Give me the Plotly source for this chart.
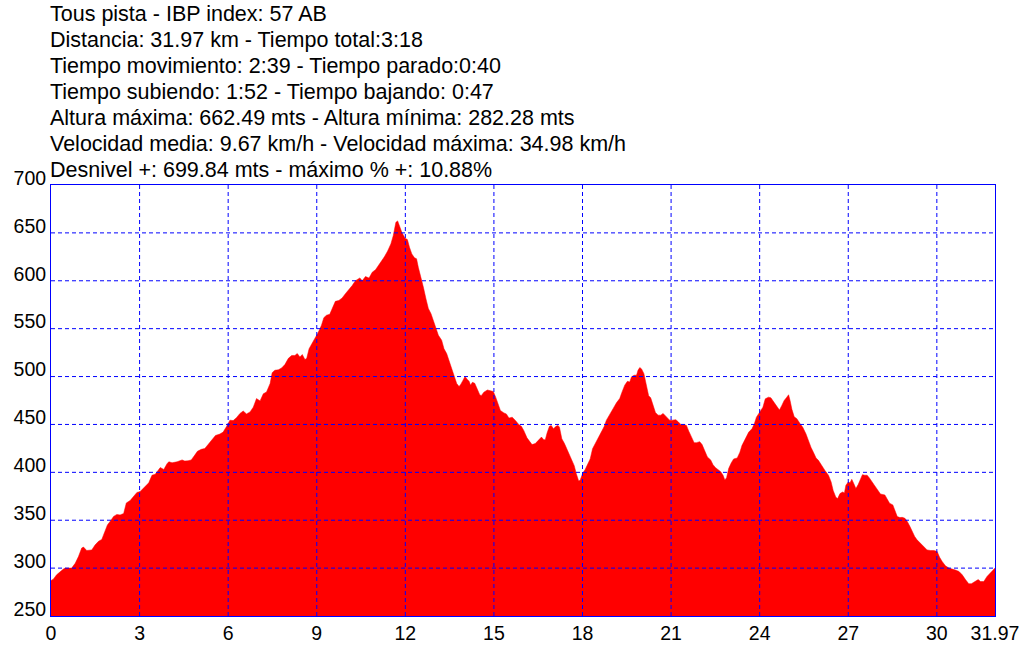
import plotly.graph_objects as go

# ---- data ----
km = [0, 0.08, 0.19, 0.31, 0.42, 0.48, 0.70, 0.82, 0.93, 1.04, 1.10, 1.21, 1.38, 1.49, 1.61, 1.72, 1.83, 1.91,
      2.00, 2.12, 2.23, 2.34, 2.46, 2.55, 2.68, 2.80, 2.91, 3.02, 3.19, 3.31, 3.42, 3.53, 3.70, 3.82, 3.93,
      3.99, 4.10, 4.27, 4.44,
      4.53, 4.64, 4.75, 4.87, 4.96, 5.09, 5.21, 5.32, 5.43, 5.57, 5.72, 5.83, 5.94, 6.06, 6.17, 6.28, 6.40,
      6.51, 6.62, 6.74, 6.85, 6.96, 7.08, 7.19, 7.30, 7.42, 7.49, 7.58, 7.70, 7.81, 7.92, 8.04, 8.15, 8.26,
      8.34, 8.43, 8.51, 8.60, 8.66, 8.74, 8.83, 8.94, 9.03,
      9.10, 9.16, 9.24, 9.33, 9.44, 9.52, 9.63, 9.75, 9.86, 9.97, 10.09, 10.20, 10.31, 10.46, 10.54, 10.65,
      10.77, 10.88, 10.99, 11.11, 11.20, 11.29, 11.40, 11.51, 11.59, 11.68, 11.74, 11.80, 11.88, 11.99,
      12.07, 12.14, 12.22, 12.31, 12.38, 12.44, 12.53, 12.61, 12.70, 12.78, 12.87, 12.95, 13.04, 13.12,
      13.23, 13.31, 13.40, 13.52, 13.63, 13.74, 13.82,
      13.88, 13.96, 14.02, 14.10, 14.16, 14.21, 14.27, 14.35, 14.44, 14.52, 14.57, 14.66, 14.78, 14.89,
      14.98, 15.06, 15.13, 15.22, 15.34, 15.42, 15.51, 15.62, 15.73, 15.84, 15.93, 16.01, 16.12, 16.20,
      16.29, 16.40, 16.52, 16.61, 16.69, 16.74, 16.80, 16.88, 16.94, 17.02, 17.10, 17.17, 17.22, 17.30,
      17.39, 17.47, 17.55, 17.64, 17.72, 17.79, 17.87, 17.92, 18.00, 18.09, 18.18, 18.26, 18.34,
      18.43, 18.53, 18.64, 18.73, 18.81, 18.92, 19.04, 19.15, 19.26, 19.34, 19.43, 19.52, 19.60, 19.66,
      19.75, 19.83, 19.88, 19.94, 20.00, 20.08, 20.14, 20.20, 20.24, 20.31, 20.39, 20.47, 20.56, 20.65,
      20.73, 20.84, 20.95, 21.05, 21.16, 21.24, 21.33, 21.44, 21.52, 21.60, 21.69, 21.78, 21.86, 21.97,
      22.05, 22.14, 22.23, 22.34, 22.42, 22.50, 22.59, 22.68, 22.76, 22.82, 22.88, 22.95,
      23.04, 23.12, 23.24, 23.33, 23.40, 23.52, 23.63, 23.74, 23.82, 23.89, 24.00, 24.11, 24.19, 24.30,
      24.38, 24.47, 24.58, 24.67, 24.75, 24.83, 24.92, 24.98, 25.03, 25.09, 25.17, 25.26, 25.37, 25.46,
      25.57, 25.65, 25.74, 25.82, 25.91, 25.99, 26.10, 26.21, 26.33, 26.42, 26.49, 26.58, 26.64, 26.72,
      26.81, 26.87, 26.92, 27.00, 27.06, 27.12, 27.19, 27.26, 27.34, 27.42, 27.48, 27.56, 27.64, 27.71,
      27.81, 27.90, 27.98, 28.09, 28.24, 28.32, 28.40, 28.51, 28.60, 28.66, 28.75, 28.83, 28.92, 29.00,
      29.09, 29.16, 29.25, 29.33, 29.45, 29.56, 29.67, 29.79, 29.90, 30.01, 30.09, 30.18, 30.29, 30.41,
      30.54, 30.63, 30.75, 30.86, 30.97, 31.08, 31.17, 31.25, 31.33, 31.40, 31.48, 31.59, 31.70, 31.82,
      31.91, 31.97]

altura = [287, 288.5, 293, 296.5, 299, 300, 300, 305, 312, 321, 322, 318.4, 319, 324, 328, 330, 340, 345,
          348.6, 354, 356, 355.5, 357, 368, 370.5, 374.7, 379, 380, 385, 389, 397, 398, 405, 403, 409,
          411, 410, 411, 413,
          411.8, 412, 413, 418, 422, 424, 425, 429, 433.7, 438.5, 440, 442, 447.6, 454.5, 454, 457, 461.5,
          464, 461, 463, 468, 477, 474.6, 482, 484, 492.7, 504, 506.6, 507, 509, 512.5, 519, 522, 522,
          524, 520.5, 523, 517.7, 519, 529, 534, 539.6, 545,
          549.3, 553.5, 561.5, 564, 565, 571, 578.5, 579.5, 582, 586.5, 590.6, 595, 600, 603, 600, 604.5,
          602.8, 609, 611.5, 616.7, 621, 625, 631, 638.5, 647, 661, 662.5, 657.6, 650.7, 644.4,
          643, 635, 628, 624, 623, 614, 604, 593.4, 581, 571, 565.6, 558.7, 550, 543,
          538, 529, 524, 513.5, 503, 492.7, 489.6,
          492, 496.5, 500, 497, 495, 491, 494, 493, 487, 481, 480, 483.7, 486, 485.4,
          484.4, 478.5, 473, 464.6, 462, 461, 456.6, 457.6, 454, 450, 448, 443.8, 436, 433,
          429, 430, 434, 436.8, 434, 434, 441, 448, 449, 445.5, 448, 449, 447, 435,
          430, 424.6, 420, 414, 407, 398.6, 391, 391.7, 398.6, 403, 409, 414, 424.6,
          430, 435.4, 441.7, 447.6, 454.5, 459.7, 466.7, 472.6, 477, 484, 491, 495, 494.4, 499.7,
          501.4, 501.4, 506.6, 509.4, 508, 503, 494.4, 489, 480, 477.8, 470, 462.5, 459.7, 459.7,
          461.5, 458, 454.5, 454.5, 455, 452.8, 450, 450, 449, 443, 437, 431, 431, 432,
          429, 423, 416, 413, 408, 405, 402.4, 400.7, 397, 392, 394.4, 404,
          410, 414, 415, 421, 428, 435, 442, 445.5, 450.7, 457.6, 463, 468, 476.7, 478.5,
          477.8, 474, 469.8, 465, 469.8, 475, 478.5, 481, 475, 466, 458, 456, 450.7, 447,
          440, 433, 426, 421, 415, 412.5, 407, 402, 397, 390, 381, 374, 372.6, 377.8,
          379.5, 378.5, 386.5, 390, 389, 392.7, 388, 383, 387.5, 393.4, 397.6, 397, 397, 394.4,
          390, 385, 381.6, 377.4, 376.4, 372, 367.7, 366, 359, 353.8, 352.8, 353, 352, 348.6,
          343.4, 338, 333, 329.5, 326, 322.6, 319, 318.4, 318.4, 317.4, 311.5, 307, 302.4, 300,
          299, 298, 296.5, 293, 288, 283.7, 283.7, 285, 286, 288, 286, 286, 291.3, 295,
          297.6, 300]

x_ticks = [0, 3, 6, 9, 12, 15, 18, 21, 24, 27, 30, 31.97]
x_tick_text = ["0", "3", "6", "9", "12", "15", "18", "21", "24", "27", "30", "31.97"]
y_ticks = [250, 300, 350, 400, 450, 500, 550, 600, 650, 700]
x_grid = [3, 6, 9, 12, 15, 18, 21, 24, 27, 30]
y_grid = [300, 350, 400, 450, 500, 550, 600, 650]

header_lines = [
    "Tous pista - IBP index: 57 AB",
    "Distancia: 31.97 km - Tiempo total:3:18",
    "Tiempo movimiento: 2:39 - Tiempo parado:0:40",
    "Tiempo subiendo: 1:52 - Tiempo bajando: 0:47",
    "Altura máxima: 662.49 mts - Altura mínima: 282.28 mts",
    "Velocidad media: 9.67 km/h - Velocidad máxima: 34.98 km/h",
    "Desnivel +: 699.84 mts - máximo % +: 10.88%",
]

FONT = "Arial, 'Liberation Sans', sans-serif"
BLUE = "#0000FF"

fig = go.Figure()
fig.add_trace(go.Scatter(
    x=km, y=altura, mode="lines", fill="tozeroy",
    fillcolor="#FF0000", line=dict(color="#FF0000", width=0.5),
    hoverinfo="skip", showlegend=False,
))

shapes = []
for gx in x_grid:
    shapes.append(dict(type="line", xref="x", yref="paper", x0=gx, x1=gx, y0=0, y1=1,
                       layer="above", line=dict(color=BLUE, width=1, dash="4px,3px")))
for gy in y_grid:
    shapes.append(dict(type="line", xref="paper", yref="y", x0=0, x1=1, y0=gy, y1=gy,
                       layer="above", line=dict(color=BLUE, width=1, dash="4px,3px")))

annotations = []
for i, line in enumerate(header_lines):
    annotations.append(dict(
        text=line, xref="paper", yref="paper", x=0, y=1,
        xanchor="left", yanchor="middle", showarrow=False,
        xshift=-3, yshift=185 - (14 + i * 26),
        font=dict(family=FONT, size=21.5, color="black"),
    ))

fig.update_layout(
    template="none",
    width=1020, height=648,
    margin=dict(l=51, r=25, t=185, b=32, autoexpand=False),
    paper_bgcolor="white", plot_bgcolor="white",
    shapes=shapes, annotations=annotations,
    font=dict(family=FONT, size=19.5, color="black"),
)
fig.update_xaxes(
    range=[0, 31.97], tickvals=x_ticks, ticktext=x_tick_text, automargin=False,
    showgrid=False, zeroline=False, showline=True, mirror=True,
    linecolor=BLUE, linewidth=1, ticks="", layer="above traces",
    ticklabelstandoff=0,
    tickfont=dict(family=FONT, size=19.5, color="black"),
)
fig.update_yaxes(
    range=[250, 700], tickvals=y_ticks, automargin=False,
    showgrid=False, zeroline=False, showline=True, mirror=True,
    linecolor=BLUE, linewidth=1, ticks="", layer="above traces",
    ticklabelshift=-7, ticklabelstandoff=0,
    tickfont=dict(family=FONT, size=19.5, color="black"),
)

fig.write_html(
    "out.html",
    config={"displayModeBar": False},
    post_script="document.body.style.margin='0px';document.body.style.padding='0px';"
                "document.body.style.overflow='hidden';",
)
